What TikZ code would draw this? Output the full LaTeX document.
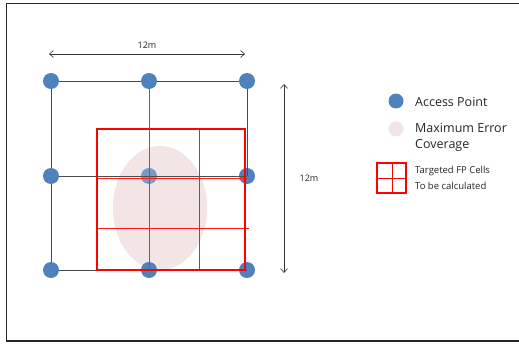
\documentclass[tikz,border=0pt]{standalone}
\usepackage{fontspec}
\setmainfont{Open Sans}
\usetikzlibrary{arrows.meta}
\definecolor{apblue}{HTML}{4F81BD}
\definecolor{errpink}{HTML}{F3E5E5}
\definecolor{gridred}{HTML}{FF0000}
\tikzset{
  ap/.style={circle,fill=apblue,minimum size=16pt,inner sep=0pt},
  gridline/.style={draw=black!70,line width=0.9pt},
  thinred/.style={draw=gridred!90,line width=0.85pt},
  dimarrow/.style={draw=black!80,line width=0.6pt,{Straight Barb[length=4pt,width=7pt]}-{Straight Barb[length=4pt,width=7pt]}},
  lbl/.style={inner sep=0pt,anchor=west,text=black!85}
}
\begin{document}
\begin{tikzpicture}[x=1pt,y=-1pt]
\useasboundingbox (0,0) rectangle (519,345);
\fill[white] (0,0) rectangle (519,345);
% frame
\draw[black!85,line width=1.2pt] (530,3.5) -- (6.5,3.5) -- (6.5,341) -- (530,341);
% ellipse
\fill[errpink] (160,208) ellipse [x radius=47, y radius=62];
% AP nodes
\node[ap] (a11) at (51,81) {};
\node[ap] (a12) at (149,81) {};
\node[ap] (a13) at (247,81) {};
\node[ap] (a21) at (51,176) {};
\node[ap,fill opacity=0.75] (a22) at (149,176) {};
\node[ap] (a23) at (247,176) {};
\node[ap] (a31) at (51,270) {};
\node[ap] (a32) at (149,270) {};
\node[ap] (a33) at (247,270) {};
% grid lines
\draw[gridline] (a11) -- (a12) -- (a13);
\draw[gridline] (a21) -- (a23.center);
\draw[gridline] (a31) -- (a33.center);
\draw[gridline] (a11) -- (a21) -- (a31);
\draw[gridline] (a12) -- (a32.center);
\draw[gridline] (a13) -- (a23.center);
% red targeted cells
\draw[thinred] (97,178) -- (247,178);
\draw[thinred] (97,228) -- (249,228);
\draw[thinred] (199,129) -- (199,270);
\draw[draw=gridred,line width=2.6pt] (97,129) rectangle (245,270);
\draw[gridline,draw=black!60] (a12) -- (a32.center);
% dimension arrows
\coordinate (tl) at (49,54);
\coordinate (tr) at (245,54);
\draw[dimarrow] (tl) -- node[above=5pt,inner sep=0pt,font=\fontsize{9}{10}\selectfont,text=black!85] (tlab) {12m} (tr);
\coordinate (rt) at (284,84);
\coordinate (rb) at (284,273);
\draw[dimarrow] (rt) -- (rb);
\node[font=\fontsize{9}{10}\selectfont,text=black!85,inner sep=0pt] (rlab) at (309,178) {12m};
% legend
\node[circle,fill=apblue,minimum size=15pt,inner sep=0pt] (lap) at (396,101) {};
\node[lbl,font=\fontsize{12.5}{14}\selectfont] (tap) at (415,102) {Access Point};
\node[circle,fill=errpink,minimum size=15pt,inner sep=0pt] (lerr) at (396,129) {};
\node[lbl,font=\fontsize{12.5}{14}\selectfont] (terr1) at (415,128) {Maximum Error};
\node[lbl,font=\fontsize{12.5}{14}\selectfont] (terr2) at (415,145) {Coverage};
\draw[draw=gridred,line width=0.7pt] (392,163) -- (392,192) (378,178) -- (406,178);
\draw[draw=gridred,line width=1.4pt] (377,163) rectangle (406,193);
\node[lbl,font=\fontsize{9.5}{11}\selectfont] (tfp1) at (415,171) {Targeted FP Cells};
\node[lbl,font=\fontsize{9.5}{11}\selectfont] (tfp2) at (415,186) {To be calculated};
\end{tikzpicture}
\end{document}
